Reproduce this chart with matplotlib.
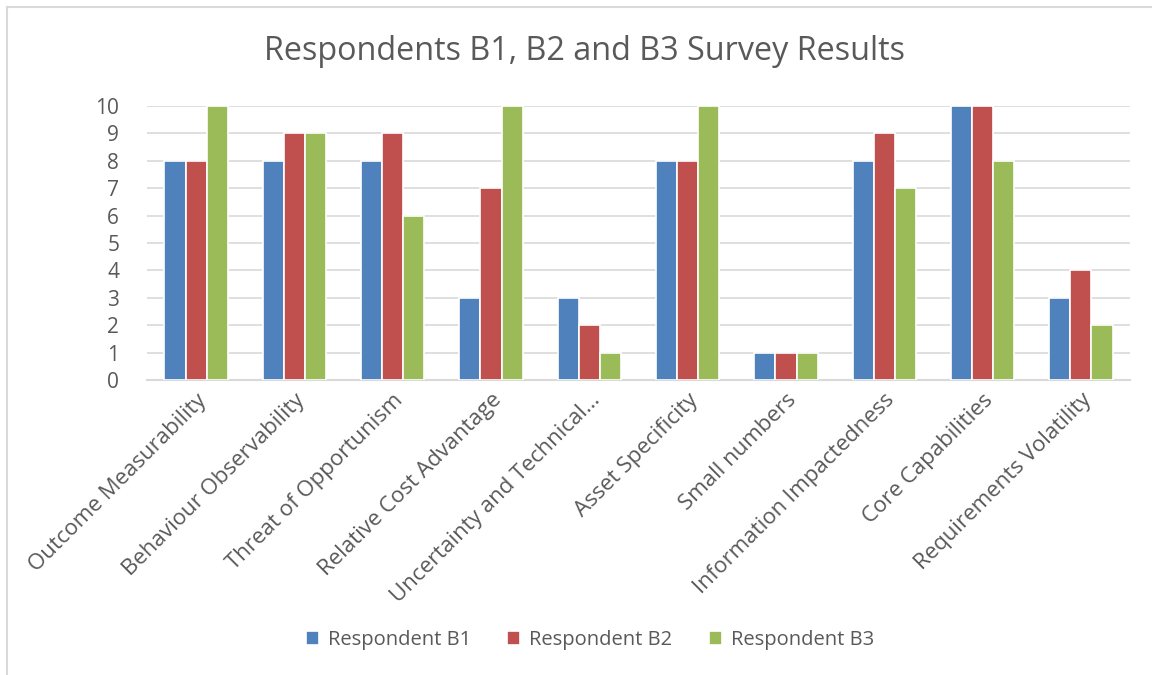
import numpy as np
import matplotlib.pyplot as plt
from matplotlib.lines import Line2D

categories = ['Outcome Measurability', 'Behaviour Observability', 'Threat of Opportunism',
              'Relative Cost Advantage', 'Uncertainty and Technical…', 'Asset Specificity',
              'Small numbers', 'Information Impactedness', 'Core Capabilities',
              'Requirements Volatility']
b1 = [8, 8, 8, 3, 3, 8, 1, 8, 10, 3]
b2 = [8, 9, 9, 7, 2, 8, 1, 9, 10, 4]
b3 = [10, 9, 6, 10, 1, 10, 1, 7, 8, 2]
series_names = ['Respondent B1', 'Respondent B2', 'Respondent B3']
colors = ['#4F81BD', '#C0504D', '#9BBB59']

plt.rcParams['font.family'] = ['Open Sans', 'DejaVu Sans']
text_col = '#595959'

fig = plt.figure(figsize=(11.52, 6.75), dpi=100)
ax = fig.add_axes([147 / 1152, 1 - 380 / 675, 983 / 1152, 274 / 675])

x = np.arange(len(categories))
w = 0.215
for i, (vals, name, c) in enumerate(zip([b1, b2, b3], series_names, colors)):
    ax.bar(x + (i - 1) * w, vals, width=w, color=c, edgecolor='white',
           linewidth=1.2, label=name, zorder=3)

ax.set_xlim(-0.5, len(categories) - 0.5)
ax.set_ylim(0, 10)
ax.set_yticks(range(0, 11))
ax.grid(axis='y', color='#D9D9D9', linewidth=1.2, zorder=0)
for s in ['top', 'right', 'left']:
    ax.spines[s].set_visible(False)
ax.spines['bottom'].set_color('#D9D9D9')
ax.spines['bottom'].set_linewidth(1.5)
ax.tick_params(length=0, labelsize=15, colors=text_col)
ax.tick_params(axis='y', pad=20)
ax.set_xticks(x)
ax.set_xticklabels(categories, rotation=45, ha='right', rotation_mode='anchor',
                   fontsize=16, color=text_col)
ax.tick_params(axis='x', pad=7)

fig.text(0.507, 1 - 52 / 675, 'Respondents B1, B2 and B3 Survey Results',
         ha='center', va='center', fontsize=23.3, color=text_col)

fig.legend(loc='center', bbox_to_anchor=(0.512, 1 - 640 / 675), ncol=3, frameon=False,
           fontsize=14.5, labelcolor=text_col, handlelength=0.65, handleheight=0.65,
           handletextpad=0.45, columnspacing=1.8)

# chart frame
fig.add_artist(Line2D([7 / 1152, 1], [1 - 7 / 675, 1 - 7 / 675], color='#D9D9D9', lw=1.5))
fig.add_artist(Line2D([7 / 1152, 7 / 1152], [0, 1 - 7 / 675], color='#D9D9D9', lw=1.5))

fig.savefig('out.png', dpi=100)
